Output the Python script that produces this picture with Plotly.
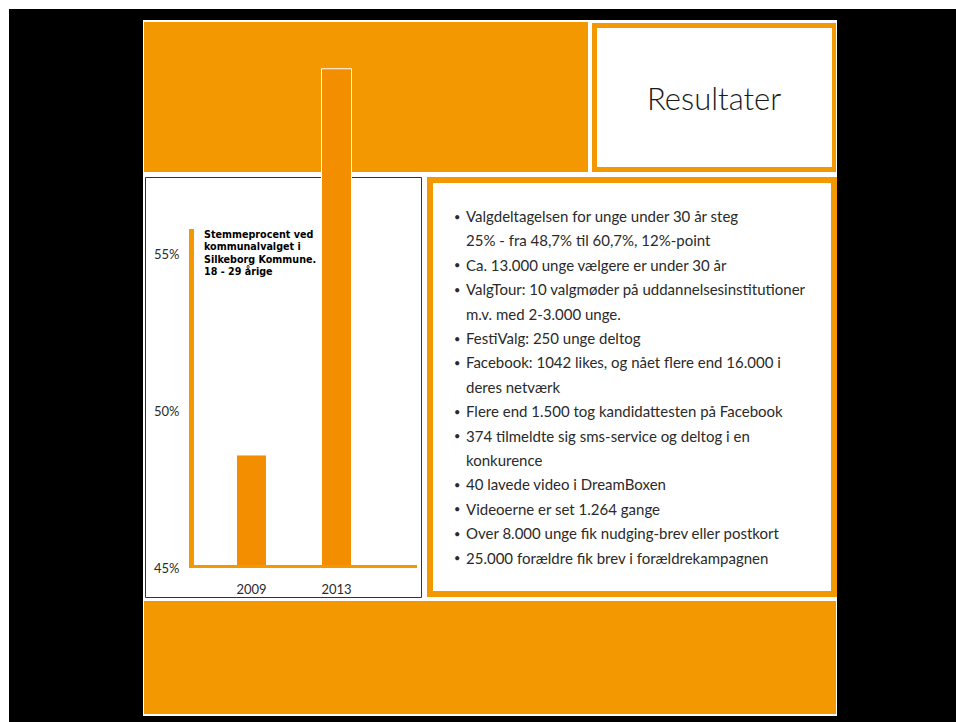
import plotly.graph_objects as go

# ---- data ----
years = ["2009", "2013"]
turnout = [48.6, 60.9]
y_ticks = [45, 50, 55]
y_tick_labels = ["45%", "50%", "55%"]
chart_title_lines = ["Stemmeprocent ved", "kommunalvalget i", "Silkeborg Kommune.", "18 - 29 årige"]
slide_title = "Resultater"
bullet_lines = [
    ("•", "Valgdeltagelsen for unge under 30 år steg"),
    ("", "25% - fra 48,7% til 60,7%, 12%-point"),
    ("•", "Ca. 13.000 unge vælgere er under 30 år"),
    ("•", "ValgTour: 10 valgmøder på uddannelsesinstitutioner"),
    ("", "m.v. med 2-3.000 unge."),
    ("•", "FestiValg: 250 unge deltog"),
    ("•", "Facebook: 1042 likes, og nået flere end 16.000 i"),
    ("", "deres netværk"),
    ("•", "Flere end 1.500 tog kandidattesten på Facebook"),
    ("•", "374 tilmeldte sig sms-service og deltog i en"),
    ("", "konkurence"),
    ("•", "40 lavede video i DreamBoxen"),
    ("•", "Videoerne er set 1.264 gange"),
    ("•", "Over 8.000 unge fik nudging-brev eller postkort"),
    ("•", "25.000 forældre fik brev i forældrekampagnen"),
]

W, H = 956, 722
ORANGE = "#F39800"
BAR = "#F28E00"
TXT = "#2a2a2a"
FONT = "Lato"

def px(x):
    return x / W

def py(y):
    return 1 - y / H

def rect(x0, y0, x1, y1, fill, line_color=None, line_width=0):
    return dict(type="rect", xref="paper", yref="paper", layer="below",
                x0=px(x0), x1=px(x1), y0=py(y1), y1=py(y0),
                fillcolor=fill,
                line=dict(color=line_color or fill, width=line_width))

shapes = [
    rect(9, 9, W, H, "black"),
    rect(143, 20, 837, 716, "white"),
    rect(144, 22, 588, 172, ORANGE),
    rect(592, 23, 836, 172, ORANGE),
    rect(597, 28, 832, 167, "white"),
    rect(145.5, 177.5, 421.5, 597.5, "white", "#333333", 1),
    rect(427, 177, 837, 597, ORANGE),
    rect(433, 183, 831, 591, "white"),
    rect(144, 601, 836, 714, ORANGE),
    # axis lines of the bar chart
    dict(type="line", xref="x domain", yref="y", layer="above",
         x0=0.011, x1=0.011, y0=y_ticks[0], y1=55.8,
         line=dict(color=ORANGE, width=5)),
    dict(type="line", xref="x domain", yref="y", layer="above",
         x0=0, x1=1, y0=y_ticks[0], y1=y_ticks[0],
         line=dict(color=ORANGE, width=6)),
]

fig = go.Figure()
fig.add_trace(go.Bar(
    x=[0, 1], y=turnout, width=0.353,
    marker=dict(color=BAR, line=dict(color="white", width=1)),
    hoverinfo="skip",
))

# axis mapping: 45% at pixel 568, 31.4 px per percentage point
y_bottom_px = 568
y_top_val = 62.0
y_top_px = y_bottom_px - (y_top_val - 45) * 31.4
x_left_px, x_right_px = 189, 417
x_unit = 85.0
x_c0 = 251.5

fig.update_layout(
    width=W, height=H,
    autosize=False,
    margin=dict(l=0, r=0, t=0, b=0, pad=0),
    paper_bgcolor="white",
    plot_bgcolor="rgba(0,0,0,0)",
    showlegend=False,
    shapes=shapes,
    xaxis=dict(
        domain=[px(x_left_px), px(x_right_px)],
        range=[-(x_c0 - x_left_px) / x_unit, (x_right_px - x_c0) / x_unit],
        tickvals=[0, 1], ticktext=years,
        showgrid=False, zeroline=False, showline=False, automargin=False,
        ticks="outside", ticklen=9, tickcolor="rgba(0,0,0,0)",
        tickfont=dict(family=FONT, size=13, color=TXT),
    ),
    yaxis=dict(
        domain=[py(y_bottom_px), py(y_top_px)],
        range=[45, y_top_val],
        tickvals=y_ticks, ticktext=y_tick_labels,
        showgrid=False, zeroline=False, showline=False, automargin=False,
        ticks="outside", ticklen=6, tickcolor="rgba(0,0,0,0)",
        tickfont=dict(family=FONT, size=13, color=TXT),
    ),
)

annotations = []
# chart title (one multi-line text block)
annotations.append(dict(
    xref="paper", yref="paper", x=px(202), y=py(227),
    xanchor="left", yanchor="top", align="left", showarrow=False,
    text="<br>".join("<b>" + s + "</b>" for s in chart_title_lines),
    font=dict(family="DejaVu Sans", size=9.6, color="#000000"),
))
# slide title
annotations.append(dict(
    xref="paper", yref="paper", x=px(714), y=py(98),
    xanchor="center", yanchor="middle", showarrow=False,
    text=slide_title, font=dict(family=FONT, size=31, color="#1a1a1a", weight=300),
))
# bullets
for i, (b, line) in enumerate(bullet_lines):
    yy = py(216 + i * 24.4)
    if b:
        annotations.append(dict(
            xref="paper", yref="paper", x=px(457), y=yy,
            xanchor="center", yanchor="middle", showarrow=False,
            text=b, font=dict(family=FONT, size=11, color=TXT),
        ))
    annotations.append(dict(
        xref="paper", yref="paper", x=px(464), y=yy,
        xanchor="left", yanchor="middle", showarrow=False,
        text=line, font=dict(family=FONT, size=15, color=TXT),
    ))
fig.update_layout(annotations=annotations)

# the slide fills the whole window: drop the page's default body margin
fig.write_html(
    "out.html",
    config={"displayModeBar": False},
    post_script="document.body.style.margin='0';document.body.style.overflow='hidden';",
)
